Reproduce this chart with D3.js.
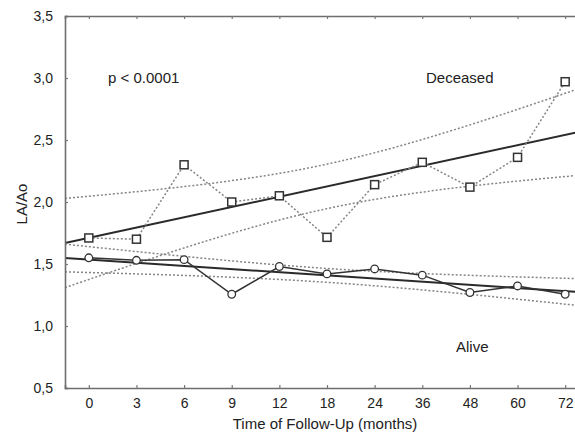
<!DOCTYPE html>
<html>
<head>
<meta charset="utf-8">
<script src="https://cdn.jsdelivr.net/npm/d3@7"></script>
<style>
  body { margin: 0; background: #fff; }
  svg text { font-family: "Liberation Sans", Arial, sans-serif; fill: #222; }
</style>
</head>
<body>
<div id="chart"></div>
<script>
// time points (months) shown as categories
var months = ["0", "3", "6", "9", "12", "18", "24", "36", "48", "60", "72"];
var deceased = [1.71, 1.70, 2.30, 2.00, 2.05, 1.715, 2.14, 2.32, 2.12, 2.36, 2.97];
var alive = [1.55, 1.53, 1.535, 1.256, 1.48, 1.42, 1.46, 1.41, 1.27, 1.323, 1.256];
var yTicks = [0.5, 1.0, 1.5, 2.0, 2.5, 3.0, 3.5];

var svgWidth = 575, svgHeight = 432;
var margin = { top: 16, left: 65, bottom: 44 };

var svg = d3.select("#chart").append("svg")
    .attr("width", svgWidth)
    .attr("height", svgHeight);

// x runs on the index of the time point, half a step of padding each side
var x = d3.scaleLinear()
    .domain([-0.5, months.length - 0.5])
    .range([margin.left, 589]);

var y = d3.scaleLinear()
    .domain([0.5, 3.5])
    .range([svgHeight - margin.bottom, margin.top]);

// least squares fit + 95% confidence band
function fit(vals) {
    var n = vals.length;
    var idx = d3.range(n);
    var mx = d3.mean(idx), my = d3.mean(vals);
    var sxx = d3.sum(idx, i => (i - mx) * (i - mx));
    var sxy = d3.sum(idx, i => (i - mx) * (vals[i] - my));
    var b = sxy / sxx, a = my - b * mx;
    var sse = d3.sum(idx, i => Math.pow(vals[i] - (a + b * i), 2));
    var s = Math.sqrt(sse / (n - 2));
    var t = 2.262; // t(0.975, 9)
    return {
        at: v => a + b * v,
        hw: v => t * s * Math.sqrt(1 / n + (v - mx) * (v - mx) / sxx)
    };
}

var grid = d3.range(-0.5, months.length - 0.5 + 0.001, 0.1);

var dotted = { stroke: "#858585", width: 1.5, dash: "2,2" };

function drawSeries(vals) {
    var f = fit(vals);
    var upper = d3.line().x(v => x(v)).y(v => y(f.at(v) + f.hw(v)));
    var lower = d3.line().x(v => x(v)).y(v => y(f.at(v) - f.hw(v)));
    [upper, lower].forEach(function (ln) {
        svg.append("path")
            .datum(grid)
            .attr("d", ln)
            .attr("fill", "none")
            .attr("stroke", dotted.stroke)
            .attr("stroke-width", dotted.width)
            .attr("stroke-dasharray", dotted.dash);
    });
    svg.append("path")
        .datum([-0.5, months.length - 0.5])
        .attr("d", d3.line().x(v => x(v)).y(v => y(f.at(v))))
        .attr("fill", "none")
        .attr("stroke", "#2a2a2a")
        .attr("stroke-width", 2);
}

drawSeries(deceased);
drawSeries(alive);

// deceased: dotted connector + squares
svg.append("path")
    .datum(deceased)
    .attr("d", d3.line().x((d, i) => x(i)).y(d => y(d)))
    .attr("fill", "none")
    .attr("stroke", dotted.stroke)
    .attr("stroke-width", dotted.width)
    .attr("stroke-dasharray", dotted.dash);

svg.selectAll(".sq")
    .data(deceased)
    .enter()
    .append("rect")
    .attr("class", "sq")
    .attr("x", (d, i) => x(i) - 4)
    .attr("y", d => y(d) - 4)
    .attr("width", 8)
    .attr("height", 8)
    .attr("fill", "#fff")
    .attr("stroke", "#333")
    .attr("stroke-width", 1.5);

// alive: solid connector + circles
svg.append("path")
    .datum(alive)
    .attr("d", d3.line().x((d, i) => x(i)).y(d => y(d)))
    .attr("fill", "none")
    .attr("stroke", "#333")
    .attr("stroke-width", 1.5);

svg.selectAll(".ci")
    .data(alive)
    .enter()
    .append("circle")
    .attr("class", "ci")
    .attr("cx", (d, i) => x(i))
    .attr("cy", d => y(d))
    .attr("r", 3.8)
    .attr("fill", "#fff")
    .attr("stroke", "#333")
    .attr("stroke-width", 1.3);

// axes
var fmt = d3.format(".1f");
var leftAxis = d3.axisLeft(y)
    .tickValues(yTicks)
    .tickSize(-3)
    .tickPadding(12)
    .tickFormat(d => fmt(d).replace(".", ","));

var bottomAxis = d3.axisBottom(x)
    .tickValues(d3.range(months.length))
    .tickSize(-3)
    .tickPadding(10)
    .tickFormat(i => months[i]);

var topAxis = d3.axisTop(x)
    .tickValues(d3.range(months.length))
    .tickSize(-3)
    .tickFormat("");

var gl = svg.append("g")
    .attr("transform", `translate(${margin.left},0)`)
    .call(leftAxis);
var gb = svg.append("g")
    .attr("transform", `translate(0,${svgHeight - margin.bottom})`)
    .call(bottomAxis);
var gt = svg.append("g")
    .attr("transform", `translate(0,${margin.top})`)
    .call(topAxis);

[gl, gb, gt].forEach(function (g) {
    g.select(".domain").attr("stroke", "#6e6e6e").attr("stroke-width", 1.6);
    g.selectAll(".tick line").attr("stroke", "#777").attr("stroke-width", 1.2);
    g.selectAll(".tick text")
        .style("font-size", "14px")
        .style("font-family", "'Liberation Sans', Arial, sans-serif")
        .attr("fill", "#222");
});
gl.selectAll(".tick text").attr("dy", "0.35em");

// labels
svg.append("text")
    .attr("transform", `translate(27, 204) rotate(-90)`)
    .attr("text-anchor", "middle")
    .style("font-size", "15px")
    .text("LA/Ao");

svg.append("text")
    .attr("x", 325)
    .attr("y", 429)
    .attr("text-anchor", "middle")
    .style("font-size", "15px")
    .text("Time of Follow-Up (months)");

svg.append("text")
    .attr("x", 108)
    .attr("y", 83)
    .style("font-size", "15px")
    .text("p < 0.0001");

svg.append("text")
    .attr("x", 426)
    .attr("y", 83)
    .style("font-size", "15px")
    .text("Deceased");

svg.append("text")
    .attr("x", 456)
    .attr("y", 352)
    .style("font-size", "15px")
    .text("Alive");
</script>
</body>
</html>
